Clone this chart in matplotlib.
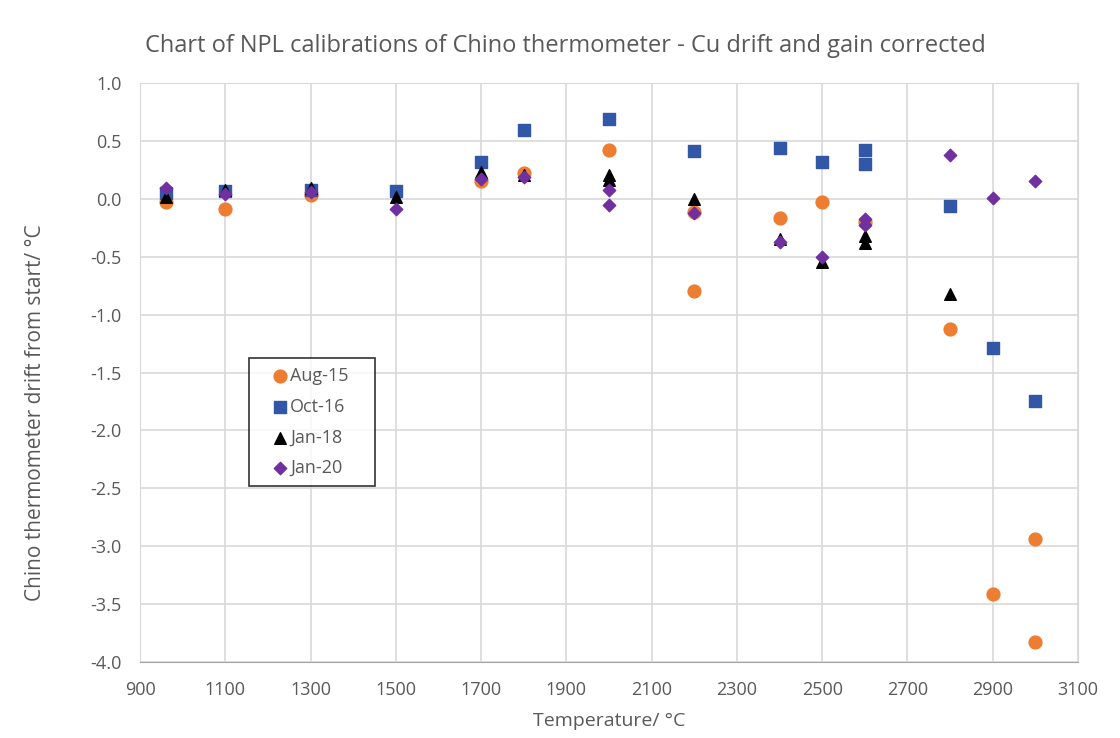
import matplotlib
matplotlib.use("Agg")
import matplotlib.pyplot as plt

plt.rcParams['font.family'] = ['Open Sans', 'DejaVu Sans']

# temperatures (degC) and drift from start (degC) for each calibration
aug15_t = [962, 1100, 1300, 1700, 1800, 2000, 2200, 2200, 2400, 2500, 2600, 2800, 2900, 3000, 3000]
aug15_d = [-0.03, -0.09, 0.03, 0.15, 0.22, 0.42, -0.11, -0.80, -0.165, -0.03, -0.20, -1.12, -3.41, -2.94, -3.83]

oct16_t = [962, 1100, 1300, 1500, 1700, 1800, 2000, 2200, 2400, 2500, 2600, 2600, 2800, 2900, 3000]
oct16_d = [0.05, 0.07, 0.08, 0.07, 0.32, 0.59, 0.69, 0.41, 0.435, 0.315, 0.42, 0.30, -0.065, -1.29, -1.745]

jan18_t = [962, 1100, 1300, 1500, 1700, 1800, 2000, 2000, 2200, 2400, 2500, 2600, 2600, 2800]
jan18_d = [0.02, 0.08, 0.09, 0.02, 0.23, 0.21, 0.21, 0.165, 0.0, -0.35, -0.545, -0.32, -0.38, -0.82]

jan20_t = [962, 1100, 1300, 1500, 1700, 1800, 2000, 2000, 2200, 2400, 2500, 2600, 2600, 2800, 2900, 3000]
jan20_d = [0.09, 0.04, 0.06, -0.09, 0.17, 0.19, 0.08, -0.05, -0.12, -0.37, -0.505, -0.17, -0.23, 0.38, 0.01, 0.155]

x_ticks = list(range(900, 3101, 200))
y_ticks = [1.0, 0.5, 0.0, -0.5, -1.0, -1.5, -2.0, -2.5, -3.0, -3.5, -4.0]

fig = plt.figure(figsize=(11.2, 7.38), dpi=100)
ax = fig.add_axes([0.125, 0.103, 0.8375, 0.7845])

ax.scatter(aug15_t, aug15_d, marker='o', s=85, color='#ED7D31', label='Aug-15', zorder=3)
ax.scatter(oct16_t, oct16_d, marker='s', s=85, color='#3157A6', label='Oct-16', zorder=3)
ax.scatter(jan18_t, jan18_d, marker='^', s=70, color='black', label='Jan-18', zorder=3)
ax.scatter(jan20_t, jan20_d, marker='D', s=40, color='#7030A0', label='Jan-20', zorder=3)

ax.set_xlim(900, 3100)
ax.set_ylim(-4.0, 1.0)
ax.set_xticks(x_ticks)
ax.set_yticks(y_ticks)
ax.set_yticklabels([f'{v:.1f}' for v in y_ticks])
ax.grid(True, color='#D9D9D9', linewidth=1.2)
ax.set_axisbelow(True)
for side in ['top', 'right', 'left']:
    ax.spines[side].set_color('#D9D9D9')
ax.spines['bottom'].set_color('#A6A6A6')
ax.tick_params(length=0, labelsize=13, colors='#595959')
ax.tick_params(axis='x', pad=14)
ax.tick_params(axis='y', pad=13)

fig.text(0.505, 0.938, 'Chart of NPL calibrations of Chino thermometer - Cu drift and gain corrected',
         fontsize=17, color='#595959', ha='center', va='center')
ax.set_xlabel('Temperature/ °C', fontsize=14, color='#595959')
ax.xaxis.set_label_coords(0.5, -0.087)
ax.set_ylabel('Chino thermometer drift from start/ °C', fontsize=15, color='#595959')
ax.yaxis.set_label_coords(-0.10, 0.43)

leg = ax.legend(loc='lower left', bbox_to_anchor=(0.116, 0.304, 0.135, 0.221), mode='expand',
                borderaxespad=0, fontsize=13, frameon=True, fancybox=False, edgecolor='black',
                handlelength=2.4, handletextpad=-0.6, borderpad=0.5, labelspacing=0.7)
leg.get_frame().set_linewidth(1.2)
for t in leg.get_texts():
    t.set_color('#595959')

fig.savefig('out.png', dpi=100)
